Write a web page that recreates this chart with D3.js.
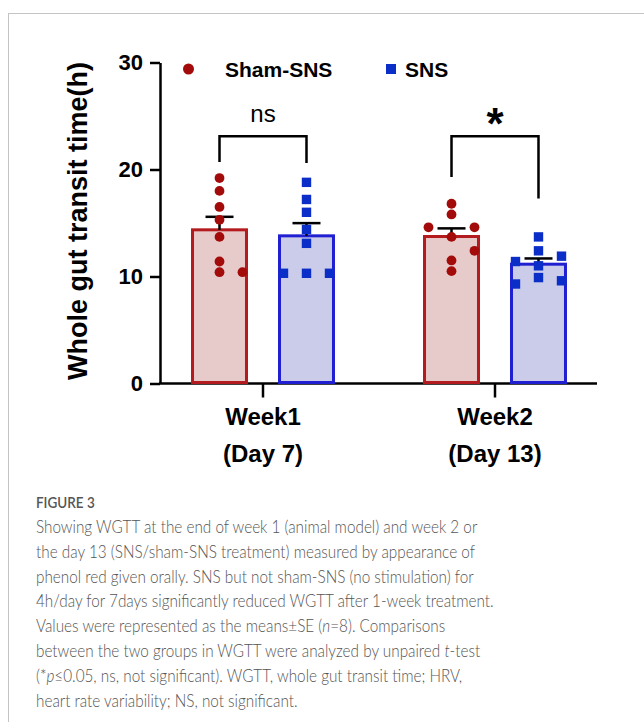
<!DOCTYPE html>
<html>
<head>
<meta charset="utf-8">
<script src="https://cdn.jsdelivr.net/npm/d3@7"></script>
<style>
  body { margin: 0; background: #fff; }
  svg { display: block; }
  .chart text { font-family: "Liberation Sans", Arial, sans-serif; fill: #000; }
  .caption text { font-family: Lato, "Open Sans", sans-serif; fill: #555; }
</style>
</head>
<body>
<svg id="fig" width="644" height="722"></svg>
<script>
// values (hours)
const weeks = ["Week1", "Week2"];
const weekDays = ["(Day 7)", "(Day 13)"];
const groups = ["Sham-SNS", "SNS"];
const shamWeek1 = [19.2, 18.0, 16.5, 15.3, 13.7, 11.4, 10.4, 10.4];
const snsWeek1 = [18.8, 17.2, 16.0, 14.4, 13.1, 10.3, 10.3, 10.3];
const shamWeek2 = [16.8, 15.8, 13.7, 14.6, 14.6, 11.5, 12.4, 10.5];
const snsWeek2 = [13.7, 12.4, 11.0, 9.9, 11.9, 11.4, 9.6, 9.3];
const yTicks = [0, 10, 20, 30];
const sigLabels = ["ns", "*"];
const bracketTop = [23.1, 23.1];
const bracketLegs = [[20.7, 20.6], [19.3, 17.3]];

const captionTitle = "FIGURE 3";
const captionLines = [
  "Showing WGTT at the end of week 1 (animal model) and week 2 or",
  "the day 13 (SNS/sham-SNS treatment) measured by appearance of",
  "phenol red given orally. SNS but not sham-SNS (no stimulation) for",
  "4h/day for 7days significantly reduced WGTT after 1-week treatment.",
  "Values were represented as the means\u00b1SE (_n_=8). Comparisons",
  "between the two groups in WGTT were analyzed by unpaired _t_-test",
  "(*_p_\u22640.05, ns, not significant). WGTT, whole gut transit time; HRV,",
  "heart rate variability; NS, not significant."
];

const series = [
  { week: "Week1", group: "Sham-SNS", values: shamWeek1 },
  { week: "Week1", group: "SNS", values: snsWeek1 },
  { week: "Week2", group: "Sham-SNS", values: shamWeek2 },
  { week: "Week2", group: "SNS", values: snsWeek2 }
];

const fill = { "Sham-SNS": "#e7caca", "SNS": "#cbcce9" };
const edge = { "Sham-SNS": "#b31b1e", "SNS": "#2020d2" };
const dotColor = { "Sham-SNS": "#a30b0b", "SNS": "#0b2dc8" };

const svg = d3.select("#fig");

// light frame round the figure panel
svg.append("rect")
  .attr("x", 8.5).attr("y", 13.5)
  .attr("width", 700).attr("height", 800)
  .attr("fill", "none").attr("stroke", "#c4c4c4");

const chart = svg.append("g").attr("class", "chart");

const plotLeft = 160, plotRight = 597;
const y = d3.scaleLinear().domain([0, 30]).range([383.5, 62.5]);
const x = d3.scaleBand().domain(weeks).range([147, 611]);
const xs = d3.scaleBand().domain(groups).range([0, x.bandwidth()])
  .paddingInner(0.345).paddingOuter(0.506);

// y axis
const yAxis = chart.append("g")
  .attr("transform", "translate(" + plotLeft + ",0)")
  .call(d3.axisLeft(y).tickValues(yTicks).tickSize(10).tickPadding(7).tickSizeOuter(0));
yAxis.selectAll("path, line").attr("stroke", "#000").attr("stroke-width", 2.5);
yAxis.selectAll("text").attr("font-size", 22).attr("font-weight", "bold")
  .attr("font-family", "Liberation Sans, Arial, sans-serif");

// x axis
const xAxis = chart.append("g")
  .attr("transform", "translate(0," + y(0) + ")")
  .call(d3.axisBottom(x).tickSize(14).tickFormat(""));
xAxis.select(".domain").remove();
xAxis.selectAll("line").attr("stroke", "#000").attr("stroke-width", 2.5);
xAxis.append("line")
  .attr("x1", plotLeft - 1).attr("x2", plotRight)
  .attr("stroke", "#000").attr("stroke-width", 2.5);

weeks.forEach(function (w, i) {
  const cx = x(w) + x.bandwidth() / 2;
  chart.append("text").attr("x", cx).attr("y", 425)
    .attr("text-anchor", "middle").attr("font-size", 24).attr("font-weight", "bold")
    .text(w);
  chart.append("text").attr("x", cx).attr("y", 462)
    .attr("text-anchor", "middle").attr("font-size", 24).attr("font-weight", "bold")
    .text(weekDays[i]);
});

// y title
chart.append("text")
  .attr("transform", "translate(87," + (y(15) - 2) + ") rotate(-90)")
  .attr("text-anchor", "middle").attr("font-size", 27).attr("font-weight", "bold")
  .text("Whole gut transit time(h)");

// bars
const barW = xs.bandwidth() - 3;
series.forEach(function (s) {
  s.cx = x(s.week) + xs(s.group) + xs.bandwidth() / 2;
  s.mean = d3.mean(s.values);
  s.se = d3.deviation(s.values) / Math.sqrt(s.values.length);
});

chart.selectAll(".bar")
  .data(series)
  .enter().append("rect")
  .attr("class", "bar")
  .attr("x", d => d.cx - barW / 2)
  .attr("width", barW)
  .attr("y", d => y(d.mean))
  .attr("height", d => y(0) - y(d.mean) - 1)
  .attr("fill", d => fill[d.group])
  .attr("stroke", d => edge[d.group])
  .attr("stroke-width", 3);

// error bars (mean + SE)
const err = chart.selectAll(".err").data(series).enter().append("g").attr("class", "err");
err.append("line")
  .attr("x1", d => d.cx).attr("x2", d => d.cx)
  .attr("y1", d => y(d.mean)).attr("y2", d => y(d.mean + d.se))
  .attr("stroke", "#000").attr("stroke-width", 2.5);
err.append("line")
  .attr("x1", d => d.cx - 14).attr("x2", d => d.cx + 14)
  .attr("y1", d => y(d.mean + d.se)).attr("y2", d => y(d.mean + d.se))
  .attr("stroke", "#000").attr("stroke-width", 2.5);

// scatter columns: each point takes the first free column (0, +1, -1, ...)
function swarm(values, minGap, step) {
  const placed = [];
  return values.map(function (v) {
    const py = y(v);
    const order = [0, 1, -1, 2, -2];
    let col = 0;
    for (const c of order) {
      const hit = placed.some(p => p.col === c && Math.abs(p.py - py) < minGap);
      if (!hit) { col = c; break; }
    }
    placed.push({ col: col, py: py });
    return { value: v, dx: col * step };
  });
}

series.forEach(function (s) {
  const pts = swarm(s.values, 10.5, 23);
  const g = chart.append("g");
  if (s.group === "Sham-SNS") {
    g.selectAll("circle").data(pts).enter().append("circle")
      .attr("cx", d => s.cx + d.dx).attr("cy", d => y(d.value))
      .attr("r", 4.9).attr("fill", dotColor[s.group]);
  } else {
    g.selectAll("rect").data(pts).enter().append("rect")
      .attr("x", d => s.cx + d.dx - 4.7).attr("y", d => y(d.value) - 4.7)
      .attr("width", 9.4).attr("height", 9.4).attr("fill", dotColor[s.group]);
  }
});

// significance brackets
weeks.forEach(function (w, i) {
  const a = series.find(s => s.week === w && s.group === groups[0]).cx;
  const b = series.find(s => s.week === w && s.group === groups[1]).cx;
  chart.append("path")
    .attr("d", d3.line()([[a, y(bracketLegs[i][0])], [a, y(bracketTop[i])],
                          [b, y(bracketTop[i])], [b, y(bracketLegs[i][1])]]))
    .attr("fill", "none").attr("stroke", "#000").attr("stroke-width", 2.5);
  const lab = chart.append("text")
    .attr("x", (a + b) / 2)
    .attr("text-anchor", "middle")
    .text(sigLabels[i]);
  if (sigLabels[i] === "*") {
    lab.attr("y", y(bracketTop[i]) + 3).attr("font-size", 44).attr("font-weight", "bold");
  } else {
    lab.attr("y", y(bracketTop[i]) - 14).attr("font-size", 24);
  }
});

// legend
const legend = chart.append("g");
legend.append("circle").attr("cx", 188.5).attr("cy", 69).attr("r", 5.5).attr("fill", dotColor["Sham-SNS"]);
legend.append("text").attr("x", 225).attr("y", 76.5).attr("font-size", 21).attr("font-weight", "bold").text(groups[0]);
legend.append("rect").attr("x", 386).attr("y", 64).attr("width", 10).attr("height", 10).attr("fill", dotColor["SNS"]);
legend.append("text").attr("x", 405).attr("y", 76.5).attr("font-size", 21).attr("font-weight", "bold").text(groups[1]);

// caption (face is a little narrower than Lato, so squeeze horizontally)
const cap = svg.append("g").attr("class", "caption")
  .attr("transform", "translate(36,0) scale(0.9,1)");
cap.append("text").attr("x", 0).attr("y", 508)
  .attr("font-size", 15).attr("font-weight", 600).attr("fill", "#555")
  .text(captionTitle);
captionLines.forEach(function (line, i) {
  const t = cap.append("text")
    .attr("x", 0).attr("y", 533 + i * 24.8)
    .attr("font-size", 17).attr("font-weight", 300);
  line.split("_").forEach(function (part, j) {
    if (part === "") return;
    t.append("tspan").attr("font-style", j % 2 ? "italic" : null).text(part);
  });
});
</script>
</body>
</html>
